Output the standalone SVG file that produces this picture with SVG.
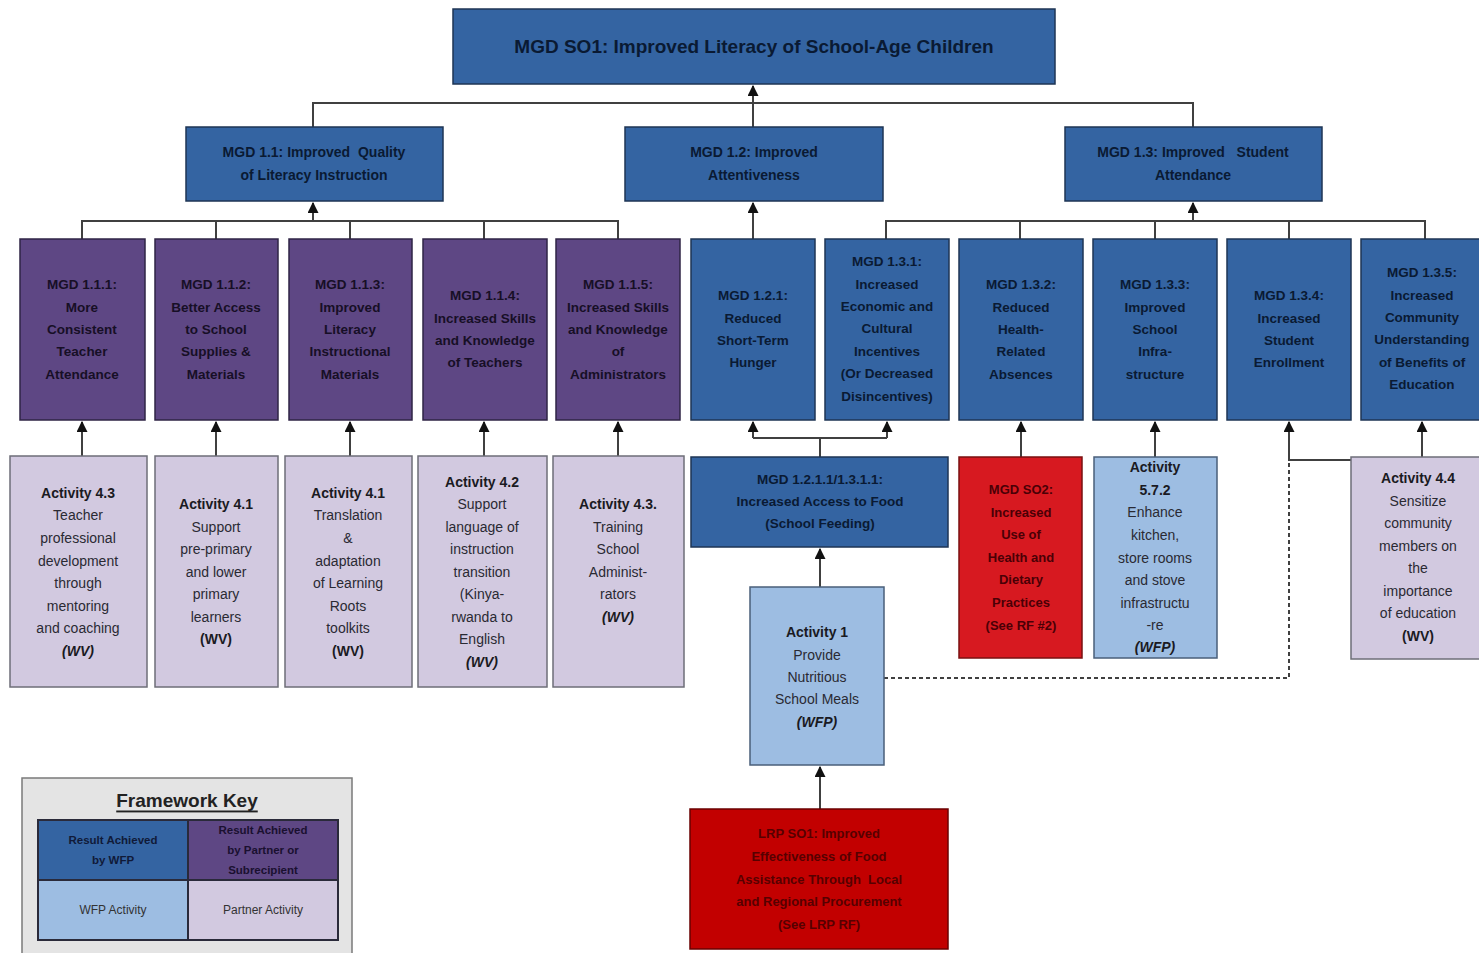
<svg xmlns="http://www.w3.org/2000/svg" width="1479" height="953" viewBox="0 0 1479 953">
<style>
text{font-family:"Liberation Sans",Arial,sans-serif;text-anchor:middle;dominant-baseline:central}
.db{fill:#3464a2;stroke:#1e3554;stroke-width:1.5}
.pu{fill:#5e4784;stroke:#2f2445;stroke-width:1.5}
.lb{fill:#9dbde2;stroke:#4a5f7a;stroke-width:1.5}
.lp{fill:#d2c9e0;stroke:#6e6e78;stroke-width:1.5}
.rd{fill:#d71920;stroke:#7a1010;stroke-width:1.5}
.rd2{fill:#c20000;stroke:#6a0000;stroke-width:1.5}
.t1{font-size:19px;font-weight:bold;fill:#0a1a33}
.t2{font-size:14px;font-weight:bold;fill:#0a1a33;white-space:pre}
.t3{font-size:13.5px;font-weight:bold;fill:#0a1a33}
.t3p{font-size:13.5px;font-weight:bold;fill:#170f26}
.ta{font-size:14px;fill:#2a2a33}
.tab{font-size:14px;font-weight:bold;fill:#1a1a22}
.tai{font-size:14px;font-weight:bold;font-style:italic;fill:#1a1a22}
.tr{font-size:13px;font-weight:bold;fill:#4a0006}
.tr2{font-size:13px;font-weight:bold;fill:#560000}
.conn{fill:none;stroke:#404040;stroke-width:2}
.dash{fill:none;stroke:#404040;stroke-width:2;stroke-dasharray:4 3}
.tk{font-size:11.5px;font-weight:bold;fill:#101a38}
.tkl{font-size:12px;fill:#333}
</style>
<defs>
<marker id="ah" viewBox="0 0 10 10" refX="9" refY="5" markerWidth="5.5" markerHeight="5.5" orient="auto">
<path d="M0,0 L10,5 L0,10 z" fill="#111"/>
</marker>
</defs>

<g id="connectors">
<path class="conn" d="M753,127 V86" marker-end="url(#ah)"/>
<path class="conn" d="M313,127 V103 H1193 V127"/>
<path class="conn" d="M313,221 V203" marker-end="url(#ah)"/>
<path class="conn" d="M82,239 V221 H618 V239 M216,221 V239 M350,221 V239 M484,221 V239"/>
<path class="conn" d="M753,239 V203" marker-end="url(#ah)"/>
<path class="conn" d="M1193,221 V203" marker-end="url(#ah)"/>
<path class="conn" d="M886,239 V221 H1425 V239 M1020,221 V239 M1155,221 V239 M1289,221 V239"/>
<path class="conn" d="M82,456 V422" marker-end="url(#ah)"/>
<path class="conn" d="M216,456 V422" marker-end="url(#ah)"/>
<path class="conn" d="M350,456 V422" marker-end="url(#ah)"/>
<path class="conn" d="M484,456 V422" marker-end="url(#ah)"/>
<path class="conn" d="M618,456 V422" marker-end="url(#ah)"/>
<path class="conn" d="M820,457 V438 M753,438 H887"/>
<path class="conn" d="M753,438 V422" marker-end="url(#ah)"/>
<path class="conn" d="M887,438 V422" marker-end="url(#ah)"/>
<path class="conn" d="M820,587 V549" marker-end="url(#ah)"/>
<path class="conn" d="M820,809 V767" marker-end="url(#ah)"/>
<path class="conn" d="M1021,457 V422" marker-end="url(#ah)"/>
<path class="conn" d="M1155,457 V422" marker-end="url(#ah)"/>
<path class="conn" d="M1422,457 V422" marker-end="url(#ah)"/>
<path class="conn" d="M1351,460 H1289 V422" marker-end="url(#ah)"/>
<path class="dash" d="M884,678 H1289 V461"/>
</g>

<g id="so1">
<rect class="db" x="453" y="9" width="602" height="75"/>
<text class="t1" x="754" y="46">MGD SO1: Improved Literacy of School-Age Children</text>
</g>

<g id="mgd11">
<rect class="db" x="186" y="127" width="257" height="74"/>
<text class="t2" x="314" y="152">MGD 1.1: Improved  Quality</text>
<text class="t2" x="314" y="175">of Literacy Instruction</text>
</g>
<g id="mgd12">
<rect class="db" x="625" y="127" width="258" height="74"/>
<text class="t2" x="754" y="152">MGD 1.2: Improved</text>
<text class="t2" x="754" y="175">Attentiveness</text>
</g>
<g id="mgd13">
<rect class="db" x="1065" y="127" width="257" height="74"/>
<text class="t2" x="1193" y="152">MGD 1.3: Improved   Student</text>
<text class="t2" x="1193" y="175">Attendance</text>
</g>

<g id="mgd111">
<rect class="pu" x="20" y="239" width="125" height="181"/>
<text class="t3p" x="82" y="284">MGD 1.1.1:</text>
<text class="t3p" x="82" y="307">More</text>
<text class="t3p" x="82" y="329">Consistent</text>
<text class="t3p" x="82" y="351">Teacher</text>
<text class="t3p" x="82" y="374">Attendance</text>
</g>
<g id="mgd112">
<rect class="pu" x="155" y="239" width="123" height="181"/>
<text class="t3p" x="216" y="284">MGD 1.1.2:</text>
<text class="t3p" x="216" y="307">Better Access</text>
<text class="t3p" x="216" y="329">to School</text>
<text class="t3p" x="216" y="351">Supplies &amp;</text>
<text class="t3p" x="216" y="374">Materials</text>
</g>
<g id="mgd113">
<rect class="pu" x="289" y="239" width="123" height="181"/>
<text class="t3p" x="350" y="284">MGD 1.1.3:</text>
<text class="t3p" x="350" y="307">Improved</text>
<text class="t3p" x="350" y="329">Literacy</text>
<text class="t3p" x="350" y="351">Instructional</text>
<text class="t3p" x="350" y="374">Materials</text>
</g>
<g id="mgd114">
<rect class="pu" x="423" y="239" width="124" height="181"/>
<text class="t3p" x="485" y="295">MGD 1.1.4:</text>
<text class="t3p" x="485" y="318">Increased Skills</text>
<text class="t3p" x="485" y="340">and Knowledge</text>
<text class="t3p" x="485" y="362">of Teachers</text>
</g>
<g id="mgd115">
<rect class="pu" x="556" y="239" width="124" height="181"/>
<text class="t3p" x="618" y="284">MGD 1.1.5:</text>
<text class="t3p" x="618" y="307">Increased Skills</text>
<text class="t3p" x="618" y="329">and Knowledge</text>
<text class="t3p" x="618" y="351">of</text>
<text class="t3p" x="618" y="374">Administrators</text>
</g>
<g id="mgd121">
<rect class="db" x="691" y="239" width="124" height="181"/>
<text class="t3" x="753" y="295">MGD 1.2.1:</text>
<text class="t3" x="753" y="318">Reduced</text>
<text class="t3" x="753" y="340">Short-Term</text>
<text class="t3" x="753" y="362">Hunger</text>
</g>
<g id="mgd131">
<rect class="db" x="825" y="239" width="124" height="181"/>
<text class="t3" x="887" y="261">MGD 1.3.1:</text>
<text class="t3" x="887" y="284">Increased</text>
<text class="t3" x="887" y="306">Economic and</text>
<text class="t3" x="887" y="328">Cultural</text>
<text class="t3" x="887" y="351">Incentives</text>
<text class="t3" x="887" y="373">(Or Decreased</text>
<text class="t3" x="887" y="396">Disincentives)</text>
</g>
<g id="mgd132">
<rect class="db" x="959" y="239" width="124" height="181"/>
<text class="t3" x="1021" y="284">MGD 1.3.2:</text>
<text class="t3" x="1021" y="307">Reduced</text>
<text class="t3" x="1021" y="329">Health-</text>
<text class="t3" x="1021" y="351">Related</text>
<text class="t3" x="1021" y="374">Absences</text>
</g>
<g id="mgd133">
<rect class="db" x="1093" y="239" width="124" height="181"/>
<text class="t3" x="1155" y="284">MGD 1.3.3:</text>
<text class="t3" x="1155" y="307">Improved</text>
<text class="t3" x="1155" y="329">School</text>
<text class="t3" x="1155" y="351">Infra-</text>
<text class="t3" x="1155" y="374">structure</text>
</g>
<g id="mgd134">
<rect class="db" x="1227" y="239" width="124" height="181"/>
<text class="t3" x="1289" y="295">MGD 1.3.4:</text>
<text class="t3" x="1289" y="318">Increased</text>
<text class="t3" x="1289" y="340">Student</text>
<text class="t3" x="1289" y="362">Enrollment</text>
</g>
<g id="mgd135">
<rect class="db" x="1361" y="239" width="124" height="181"/>
<text class="t3" x="1422" y="272">MGD 1.3.5:</text>
<text class="t3" x="1422" y="295">Increased</text>
<text class="t3" x="1422" y="317">Community</text>
<text class="t3" x="1422" y="339">Understanding</text>
<text class="t3" x="1422" y="362">of Benefits of</text>
<text class="t3" x="1422" y="384">Education</text>
</g>

<g id="act43a">
<rect class="lp" x="10" y="456" width="137" height="231"/>
<text class="tab" x="78" y="493">Activity 4.3</text>
<text class="ta" x="78" y="515">Teacher</text>
<text class="ta" x="78" y="538">professional</text>
<text class="ta" x="78" y="561">development</text>
<text class="ta" x="78" y="583">through</text>
<text class="ta" x="78" y="606">mentoring</text>
<text class="ta" x="78" y="628">and coaching</text>
<text class="tai" x="78" y="651">(WV)</text>
</g>
<g id="act41a">
<rect class="lp" x="155" y="456" width="123" height="231"/>
<text class="tab" x="216" y="504">Activity 4.1</text>
<text class="ta" x="216" y="527">Support</text>
<text class="ta" x="216" y="549">pre-primary</text>
<text class="ta" x="216" y="572">and lower</text>
<text class="ta" x="216" y="594">primary</text>
<text class="ta" x="216" y="617">learners</text>
<text class="tab" x="216" y="639">(WV)</text>
</g>
<g id="act41b">
<rect class="lp" x="285" y="456" width="127" height="231"/>
<text class="tab" x="348" y="493">Activity 4.1</text>
<text class="ta" x="348" y="515">Translation</text>
<text class="ta" x="348" y="538">&amp;</text>
<text class="ta" x="348" y="561">adaptation</text>
<text class="ta" x="348" y="583">of Learning</text>
<text class="ta" x="348" y="606">Roots</text>
<text class="ta" x="348" y="628">toolkits</text>
<text class="tab" x="348" y="651">(WV)</text>
</g>
<g id="act42">
<rect class="lp" x="418" y="456" width="129" height="231"/>
<text class="tab" x="482" y="482">Activity 4.2</text>
<text class="ta" x="482" y="504">Support</text>
<text class="ta" x="482" y="527">language of</text>
<text class="ta" x="482" y="549">instruction</text>
<text class="ta" x="482" y="572">transition</text>
<text class="ta" x="482" y="594">(Kinya-</text>
<text class="ta" x="482" y="617">rwanda to</text>
<text class="ta" x="482" y="639">English</text>
<text class="tai" x="482" y="662">(WV)</text>
</g>
<g id="act43b">
<rect class="lp" x="553" y="456" width="131" height="231"/>
<text class="tab" x="618" y="504">Activity 4.3.</text>
<text class="ta" x="618" y="527">Training</text>
<text class="ta" x="618" y="549">School</text>
<text class="ta" x="618" y="572">Administ-</text>
<text class="ta" x="618" y="594">rators</text>
<text class="tai" x="618" y="617">(WV)</text>
</g>

<g id="mgd1211">
<rect class="db" x="691" y="457" width="257" height="90"/>
<text class="t3" x="820" y="479">MGD 1.2.1.1/1.3.1.1:</text>
<text class="t3" x="820" y="501">Increased Access to Food</text>
<text class="t3" x="820" y="523">(School Feeding)</text>
</g>
<g id="act1">
<rect class="lb" x="750" y="587" width="134" height="178"/>
<text class="tab" x="817" y="632">Activity 1</text>
<text class="ta" x="817" y="655">Provide</text>
<text class="ta" x="817" y="677">Nutritious</text>
<text class="ta" x="817" y="699">School Meals</text>
<text class="tai" x="817" y="722">(WFP)</text>
</g>
<g id="lrpso1">
<rect class="rd2" x="690" y="809" width="258" height="140"/>
<text class="tr2" x="819" y="833">LRP SO1: Improved</text>
<text class="tr2" x="819" y="856">Effectiveness of Food</text>
<text class="tr2" x="819" y="879" style="white-space:pre">Assistance Through  Local</text>
<text class="tr2" x="819" y="901">and Regional Procurement</text>
<text class="tr2" x="819" y="924">(See LRP RF)</text>
</g>
<g id="mgdso2">
<rect class="rd" x="959" y="457" width="123" height="201"/>
<text class="tr" x="1021" y="489">MGD SO2:</text>
<text class="tr" x="1021" y="512">Increased</text>
<text class="tr" x="1021" y="534">Use of</text>
<text class="tr" x="1021" y="557">Health and</text>
<text class="tr" x="1021" y="579">Dietary</text>
<text class="tr" x="1021" y="602">Practices</text>
<text class="tr" x="1021" y="625">(See RF #2)</text>
</g>
<g id="act572">
<rect class="lb" x="1094" y="457" width="123" height="201"/>
<text class="tab" x="1155" y="467">Activity</text>
<text class="tab" x="1155" y="490">5.7.2</text>
<text class="ta" x="1155" y="512">Enhance</text>
<text class="ta" x="1155" y="535">kitchen,</text>
<text class="ta" x="1155" y="558">store rooms</text>
<text class="ta" x="1155" y="580">and stove</text>
<text class="ta" x="1155" y="603">infrastructu</text>
<text class="ta" x="1155" y="625">-re</text>
<text class="tai" x="1155" y="647">(WFP)</text>
</g>
<g id="act44">
<rect class="lp" x="1351" y="457" width="134" height="202"/>
<text class="tab" x="1418" y="478">Activity 4.4</text>
<text class="ta" x="1418" y="501">Sensitize</text>
<text class="ta" x="1418" y="523">community</text>
<text class="ta" x="1418" y="546">members on</text>
<text class="ta" x="1418" y="568">the</text>
<text class="ta" x="1418" y="591">importance</text>
<text class="ta" x="1418" y="613">of education</text>
<text class="tab" x="1418" y="636">(WV)</text>
</g>

<g id="framework-key">
<rect x="22" y="778" width="330" height="180" fill="#e4e4e4" stroke="#7a7a7a" stroke-width="1.5"/>
<text x="187" y="800" style="font-size:19px;font-weight:bold;fill:#222;text-decoration:underline">Framework Key</text>
<rect x="38" y="820" width="150" height="60" fill="#3464a2"/>
<rect x="188" y="820" width="150" height="60" fill="#5e4784"/>
<rect x="38" y="880" width="150" height="60" fill="#9dbde2"/>
<rect x="188" y="880" width="150" height="60" fill="#d2c9e0"/>
<path d="M38,820 H338 V940 H38 Z M188,820 V940 M38,880 H338" fill="none" stroke="#2a2a3a" stroke-width="2"/>
<text class="tk" x="113" y="840">Result Achieved</text>
<text class="tk" x="113" y="860">by WFP</text>
<text class="tk" x="263" y="830" style="fill:#1a1030">Result Achieved</text>
<text class="tk" x="263" y="850" style="fill:#1a1030">by Partner or</text>
<text class="tk" x="263" y="870" style="fill:#1a1030">Subrecipient</text>
<text class="tkl" x="113" y="910">WFP Activity</text>
<text class="tkl" x="263" y="910">Partner Activity</text>
</g>
</svg>
